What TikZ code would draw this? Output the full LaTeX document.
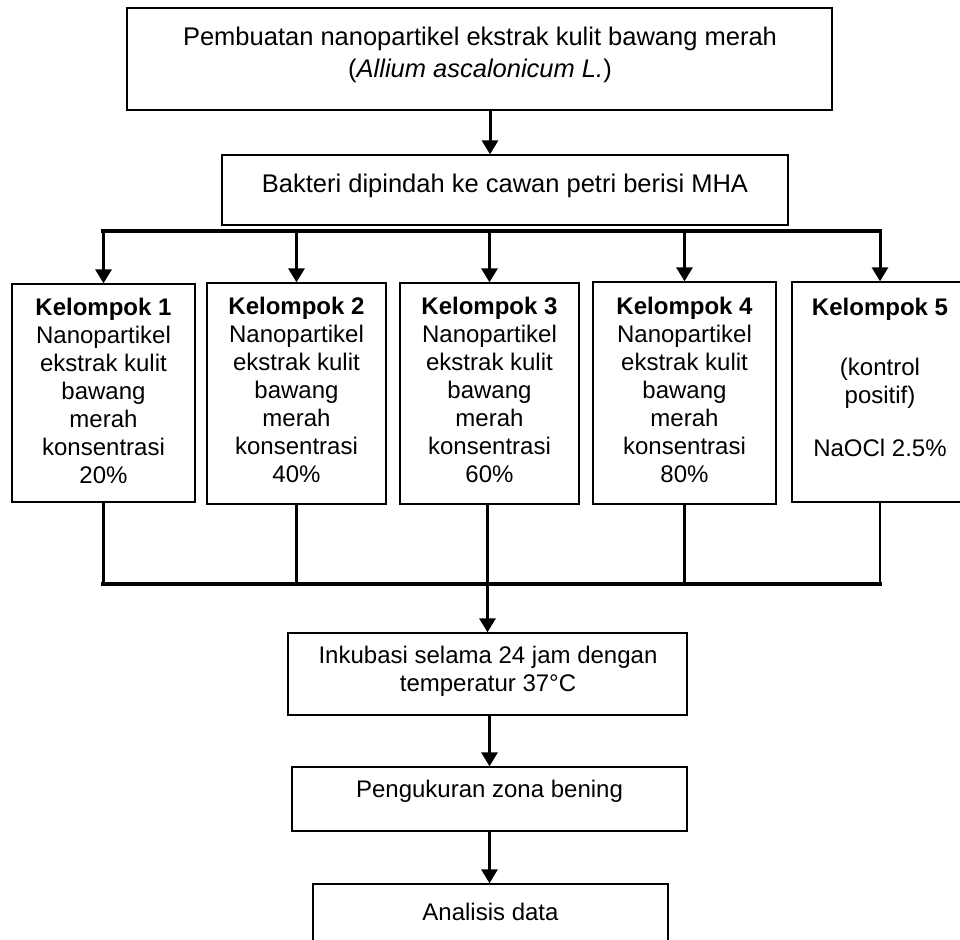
\documentclass[tikz,border=0pt]{standalone}
\usepackage{fontspec}
\setmainfont{Liberation Sans}
\usetikzlibrary{arrows.meta}
\begin{document}
\begin{tikzpicture}[x=1pt,y=-1pt,
  box/.style={draw,line width=1.3pt,inner sep=0pt},
  txt/.style={align=center,font=\fontsize{24}{28}\selectfont,inner sep=0pt},
  bigtxt/.style={align=center,font=\fontsize{25.5}{32}\selectfont,inner sep=0pt},
  arr/.style={line width=3pt,-{Triangle[width=16pt,length=14pt]}},
  bus/.style={line width=3.2pt},
  link/.style={line width=2.2pt}]
\useasboundingbox (0,0) rectangle (960,939);
\clip (0,0) rectangle (960,939);
% boxes
\node[box,line width=2.2pt,minimum width=705pt,minimum height=102pt] (top) at (479.5,59) {};
\node[bigtxt] (toptxt) at (480,55) {Pembuatan nanopartikel ekstrak kulit bawang merah\\(\textit{Allium ascalonicum L.})};
\node[box,minimum width=566pt,minimum height=70pt] (bak) at (505,190) {};
\node[bigtxt] (baktxt) at (505,186) {Bakteri dipindah ke cawan petri berisi MHA};
\node[box,minimum width=183pt,minimum height=218pt] (g1) at (103.5,393) {};
\node[box,minimum width=179pt,minimum height=221pt] (g2) at (296.5,393.5) {};
\node[box,minimum width=179pt,minimum height=221pt] (g3) at (489.5,393.5) {};
\node[box,minimum width=183pt,minimum height=222pt] (g4) at (684.5,393) {};
\node[box,minimum width=176pt,minimum height=220pt] (g5) at (880,392) {};
\node[txt] (t1) at (103.5,391) {\textbf{Kelompok 1}\\Nanopartikel\\ekstrak kulit\\bawang\\merah\\konsentrasi\\20\%};
\node[txt] (t2) at (296.5,390) {\textbf{Kelompok 2}\\Nanopartikel\\ekstrak kulit\\bawang\\merah\\konsentrasi\\40\%};
\node[txt] (t3) at (489.5,390) {\textbf{Kelompok 3}\\Nanopartikel\\ekstrak kulit\\bawang\\merah\\konsentrasi\\60\%};
\node[txt] (t4) at (684.5,389.5) {\textbf{Kelompok 4}\\Nanopartikel\\ekstrak kulit\\bawang\\merah\\konsentrasi\\80\%};
\node[txt] (t5) at (880,377.5) {\textbf{Kelompok 5}\\[32pt](kontrol\\positif)\\[25pt]NaOCl 2.5\%};
\node[box,minimum width=399pt,minimum height=82pt] (ink) at (487.5,674) {};
\node[txt] (inktxt) at (488,671) {Inkubasi selama 24 jam dengan\\temperatur 37°C};
\node[box,minimum width=395pt,minimum height=64pt] (uk) at (489.5,799) {};
\node[txt] (uktxt) at (489.5,791.5) {Pengukuran zona bening};
\node[box,minimum width=355pt,minimum height=90pt] (an) at (490.5,929) {};
\node[txt] (antxt) at (490.5,912) {Analisis data};
% top arrow
\draw[arr] ([xshift=10.5pt]top.south) -- ([xshift=10.5pt]top.south |- bak.north);
% upper bus
\coordinate (busL) at (103,231);
\coordinate (busR) at (880,231);
\draw[bus] ([xshift=-1.6pt]busL) -- ([xshift=1.6pt]busR);
\foreach \g in {g1,g2,g3,g4,g5}{
  \draw[arr] (\g.north |- busL) -- (\g.north);
}
% lower bus
\coordinate (lbL) at (103,584);
\coordinate (lbR) at (880,584);
\draw[bus] ([xshift=-1.6pt]lbL) -- ([xshift=1.6pt]lbR);
\foreach \g in {g1,g2,g4,g5}{
  \draw[link] (\g.south) -- (\g.south |- lbL);
}
\draw[arr] (g3.south -| ink.north) -- (ink.north);
% lower arrows
\draw[arr] ([xshift=2pt]ink.south) -- ([xshift=2pt]ink.south |- uk.north);
\draw[arr] (uk.south) -- (uk.south |- an.north);
\end{tikzpicture}
\end{document}
